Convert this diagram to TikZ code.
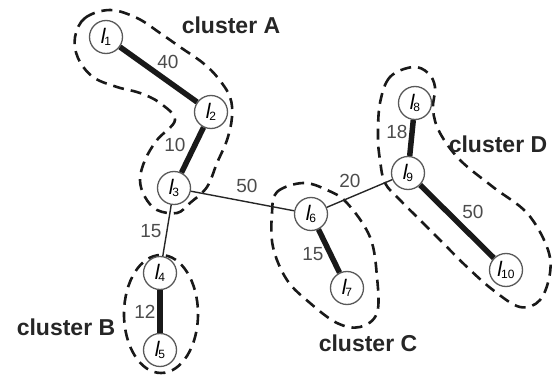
\documentclass[tikz,border=0pt]{standalone}
\usepackage{fontspec}
\setmainfont{Liberation Sans}
\begin{document}
\begin{tikzpicture}[x=1pt,y=-1pt,
  nd/.style={circle,draw=black!65,line width=1.3pt,fill=white,minimum size=33pt,inner sep=0pt},
  strong/.style={line width=5.5pt,draw=black!90},
  weak/.style={line width=1.4pt,draw=black!85},
  clus/.style={draw=black!90,line width=2.6pt,dash pattern=on 11pt off 7pt},
  elab/.style={text=black!70,font=\fontsize{19}{19}\selectfont},
  clab/.style={text=black!85,font=\bfseries\fontsize{23}{23}\selectfont}]
\useasboundingbox (0,0) rectangle (558,380);
\newcommand{\lbl}[1]{{\fontsize{21}{21}\selectfont\itshape l}\kern-1pt\raisebox{-0.35ex}{\fontsize{12}{12}\selectfont #1}}
% cluster outlines
\draw[clus] plot[smooth cycle,tension=0.6] coordinates {(75,37) (85,18) (110,10) (137,18) (160,33) (180,47) (203,63) (218,78) (230,97) (232,117) (227,140) (217,163) (207,187) (190,203) (177,213) (157,210) (145,197) (140,180) (145,160) (157,140) (175,120) (160,103) (140,93) (117,87) (93,77) (78,58)};
\draw[clus] (161,314) ellipse [x radius=37, y radius=59];
\draw[clus] plot[smooth cycle,tension=0.6] coordinates {(272,213) (277,192) (303,183) (327,190) (347,203) (370,237) (377,277) (377,313) (360,327) (337,323) (310,303) (287,280) (273,247)};
\draw[clus] plot[smooth cycle,tension=0.6] coordinates {(413,67) (390,77) (380,103) (378,137) (380,160) (385,183) (400,200) (420,220) (443,243) (467,267) (493,290) (520,307) (540,300) (550,273) (547,247) (527,213) (493,187) (460,160) (440,133) (433,110) (435,87) (428,73)};
% nodes
\node[nd] (l1) at (106,37) {\lbl{1}};
\node[nd] (l2) at (211,112) {\lbl{2}};
\node[nd] (l3) at (174,188) {\lbl{3}};
\node[nd] (l4) at (160,273) {\lbl{4}};
\node[nd] (l5) at (160,350) {\lbl{5}};
\node[nd] (l6) at (311,214) {\lbl{6}};
\node[nd] (l7) at (347,288) {\lbl{7}};
\node[nd] (l8) at (415,103) {\lbl{8}};
\node[nd] (l9) at (408,173) {\lbl{9}};
\node[nd] (l10) at (506,270) {\lbl{10}};
% edges
\draw[strong] (l1) -- (l2);
\draw[strong] (l2) -- (l3);
\draw[strong] (l4) -- (l5);
\draw[strong] (l6) -- (l7);
\draw[strong] (l8) -- (l9);
\draw[strong] (l9) -- (l10);
\draw[weak] (l3) -- (l4);
\draw[weak] (l3) -- (l6);
\draw[weak] (l6) -- (l9);
% edge labels
\node[elab] (e12) at (168,62) {40};
\node[elab] (e23) at (175,145) {10};
\node[elab] (e36) at (247,186) {50};
\node[elab] (e34) at (151,231) {15};
\node[elab] (e45) at (145,312) {12};
\node[elab] (e67) at (313,254) {15};
\node[elab] (e69) at (350,181) {20};
\node[elab] (e89) at (397,132) {18};
\node[elab] (e910) at (473,212) {50};
% cluster labels
\node[clab] (cA) at (231,25) {cluster A};
\node[clab] (cB) at (66,327) {cluster B};
\node[clab] (cC) at (368,343) {cluster C};
\node[clab] (cD) at (498,144) {cluster D};
\end{tikzpicture}
\end{document}
